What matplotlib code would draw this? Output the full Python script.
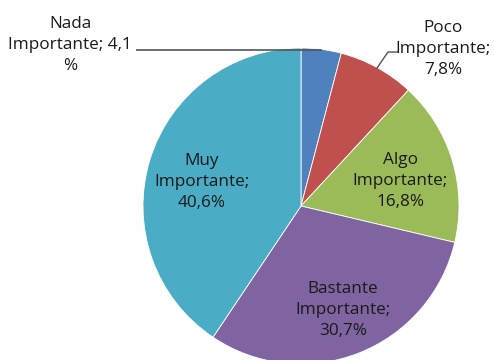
import matplotlib
matplotlib.use("Agg")
import matplotlib.pyplot as plt

categories = ["Nada Importante", "Poco Importante", "Algo Importante",
              "Bastante Importante", "Muy Importante"]
values = [4.1, 7.8, 16.8, 30.7, 40.6]
colors = ["#4F81BD", "#C0504D", "#9BBB59", "#8064A2", "#4BACC6"]
labels = ["Nada\nImportante; 4,1\n%", "Poco\nImportante;\n7,8%",
          "Algo\nImportante;\n16,8%", "Bastante\nImportante;\n30,7%",
          "Muy\nImportante;\n40,6%"]

W, H = 494, 360
fig = plt.figure(figsize=(W / 100, H / 100), dpi=100)
ax = fig.add_axes([0, 0, 1, 1])

cx, cy, r = 301, H - 206, 158
ax.pie(values, colors=colors, startangle=90, counterclock=False,
       center=(cx, cy), radius=r, frame=True,
       wedgeprops=dict(edgecolor="white", linewidth=0.6))
ax.set_xlim(0, W)
ax.set_ylim(0, H)
ax.set_aspect("equal")
ax.axis("off")

label_pos = [(70, 45), (443, 49), (400, 181), (343, 310), (202, 182)]
for lab, (x, y) in zip(labels, label_pos):
    ax.text(x, H - y, lab, ha="center", va="center", fontsize=12.3,
            family="Open Sans", color="#1a1a1a", linespacing=1.38)

# leader lines
ax.plot([136, 322], [H - 50, H - 50], color="#555555", lw=1.2, solid_capstyle="butt")
ax.plot([398, 388, 377], [H - 52, H - 52, H - 68], color="#555555", lw=1.0)

fig.savefig("out.png", dpi=100)
